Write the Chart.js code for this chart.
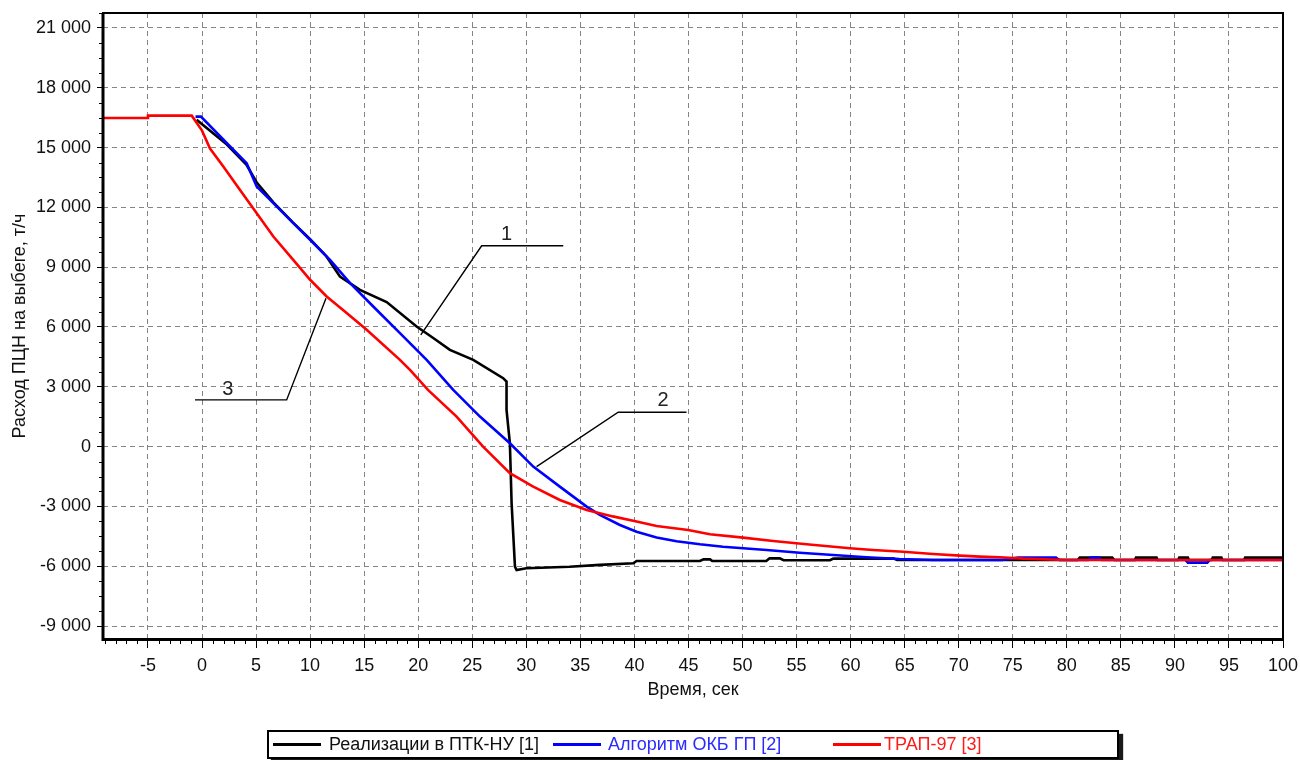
<!DOCTYPE html>
<html>
<head>
<meta charset="utf-8">
<title>Расход ПЦН на выбеге</title>
<script src="https://cdn.jsdelivr.net/npm/chart.js@4/dist/chart.umd.min.js"></script>
<style>
  html, body { margin: 0; padding: 0; background: #fff; }
  #wrap { position: relative; width: 1300px; height: 760px; }
  #chart { position: absolute; left: 0; top: 0; }
  #legend {
    position: absolute; left: 267px; top: 730px; width: 848px; height: 25px;
    border: 2px solid #000; background: #fff; box-shadow: 4px 4px 1px #1a1a1a;
    font: 18px "Liberation Sans", Arial, sans-serif;
  }
  #legend .sw { position: absolute; top: 11px; height: 3px; }
  #legend .tx { position: absolute; top: 0; height: 25px; line-height: 25px; white-space: nowrap; }
</style>
</head>
<body>
<div id="wrap">
  <canvas id="chart" width="1300" height="760"></canvas>
  <div id="legend"></div>
</div>
<script>
// ---- data -------------------------------------------------------------
// time, s / flow, t/h : implementation in ПТК-НУ [1]
const timeImpl = [-0.5, 2.3, 4.1, 5.1, 6.6, 8.4, 10, 11.5, 12.76, 14.61, 17.08, 19.85, 21.39, 22.93, 25.09, 27.86, 28.17,
  28.17, 28.48, 28.64, 28.95, 29.1, 30, 34, 36.8, 39.9, 40.2, 46.06, 46.4, 47.0, 47.2, 52.2, 52.5, 53.45, 53.8, 58.1, 58.4, 64,
  64.3, 81, 81.2, 84.2, 84.4, 86.3, 86.4, 88.3, 88.4, 90.3, 90.4, 91.2, 91.3, 93.4, 93.5, 94.3, 94.4, 96.4, 96.5, 100];
const flowImpl = [16400, 15150, 14150, 13220, 12250, 11250, 10400, 9550, 8532, 7865, 7250, 6023, 5450, 4850, 4350, 3433, 3262,
  1842, 170, -2840, -6023, -6190, -6105, -6023, -5930, -5855, -5740, -5740, -5655, -5655, -5740, -5740, -5604, -5604, -5700, -5700, -5620, -5620,
  -5690, -5690, -5570, -5570, -5690, -5690, -5570, -5570, -5690, -5690, -5570, -5570, -5690, -5690, -5570, -5570, -5690, -5690, -5570, -5570];

// algorithm ОКБ ГП [2]
const timeOkb = [-0.6, -0.1, 2.28, 4.13, 5.06, 6.6, 8.44, 10, 11.84, 13.7, 15.84, 18.31, 20.78, 23.24, 25.71, 28.48, 30.64,
  33.1, 35.58, 36.8, 38.66, 40.2, 42.05, 43.9, 46.06, 48.2, 50.06, 52.22, 55.3, 58.39, 61.47, 64.5, 67.63, 74, 75.5, 79, 79.3,
  82, 82.2, 83, 83.2, 91, 91.2, 93, 93.2, 100];
const flowOkb = [16550, 16550, 15230, 14220, 13050, 12215, 11210, 10375, 9370, 8200, 7027, 5690, 4350, 2845, 1506, 170, -1004,
  -2008, -3011, -3428, -3930, -4266, -4560, -4750, -4900, -5020, -5100, -5185, -5320, -5435, -5550, -5636, -5687, -5687, -5570, -5570, -5690,
  -5690, -5570, -5570, -5690, -5690, -5820, -5820, -5690, -5690];

// ТРАП-97 [3]
const timeTrap = [-9.2, -5.05, -5, -0.95, 0, 0.74, 1.97, 3.5, 5.06, 6.6, 8.44, 10, 11.53, 13.38, 15.23, 18.31,
  19.24, 20.9, 23.55, 26.0, 28.48, 30.64, 33.1, 35.58, 38.0, 40.2, 42.05, 44.97, 46.98, 50.06, 52.84, 55.92, 59.93, 62.08,
  64.86, 67.63, 70.1, 71.95, 73.8, 76, 80, 100];
const flowTrap = [16480, 16480, 16600, 16600, 15850, 14950, 14050, 12880, 11710, 10540, 9370, 8370, 7530, 6700, 5857, 4350,
  3850, 2845, 1506, 0, -1335, -2008, -2675, -3177, -3500, -3760, -3980, -4180, -4400, -4567, -4733, -4900, -5100, -5185,
  -5270, -5385, -5470, -5520, -5550, -5620, -5690, -5690];

// leader lines for the curve numbers: [time, flow] vertices and the number's anchor
const leaderNames = ['1', '2', '3'];
const leaderTimes = [[20.24, 25.87, 33.42], [30.95, 38.5, 44.82], [11.47, 7.83, -0.65]];
const leaderFlows = [[5606, 10073, 10073], [-1004, 1725, 1725], [7448, 2344, 2344]];
const leaderLabelTime = [28.18, 42.66, 2.38];
const leaderLabelFlow = [10625, 2309, 2845];

// axes
const xTickValues = [-5, 0, 5, 10, 15, 20, 25, 30, 35, 40, 45, 50, 55, 60, 65, 70, 75, 80, 85, 90, 95, 100];
const yTickValues = [-9000, -6000, -3000, 0, 3000, 6000, 9000, 12000, 15000, 18000, 21000];
const xRange = [-9.16, 100];
const yRange = [-9650, 21750];

const seriesNames = ['Реализации в ПТК-НУ [1]', 'Алгоритм ОКБ ГП [2]', 'ТРАП-97 [3]'];
const seriesColors = ['#000000', '#0000ff', '#ff0000'];
const legendTextColors = ['#111111', '#2b2bff', '#ff1a1a'];

// ---- helpers ----------------------------------------------------------
const FONT = '"Liberation Sans", Arial, sans-serif';
const zip = (xs, ys) => xs.map((x, i) => ({ x, y: ys[i] }));
const fmt = v => (v < 0 ? '-' : '') + String(Math.abs(v)).replace(/\B(?=(\d{3})+(?!\d))/g, ' ');

const seriesDatasets = [
  [timeImpl, flowImpl], [timeOkb, flowOkb], [timeTrap, flowTrap]
].map(([t, q], i) => ({
  label: seriesNames[i],
  data: zip(t, q),
  borderColor: seriesColors[i],
  backgroundColor: seriesColors[i],
  borderWidth: 2.6,
  pointRadius: 0,
  tension: 0,
  order: 3 - i
}));

const leaderDatasets = leaderTimes.map((t, i) => ({
  label: 'leader ' + leaderNames[i],
  data: zip(t, leaderFlows[i]),
  borderColor: '#000',
  borderWidth: 1.4,
  pointRadius: 0,
  tension: 0,
  order: 0,
  isLeader: true
}));

// short outside tick marks (every 1 s and every 750 t/h) plus the plot frame
const framePlugin = {
  id: 'frame',
  afterDraw(chart) {
    const { ctx, chartArea: a, scales: { x, y } } = chart;
    ctx.save();
    ctx.strokeStyle = '#000';
    ctx.lineWidth = 1;
    ctx.beginPath();
    for (let v = Math.ceil(x.min); v <= x.max; v++) {
      if (v % 5 === 0) continue;
      const px = Math.round(x.getPixelForValue(v)) + 0.5;
      ctx.moveTo(px, a.bottom); ctx.lineTo(px, a.bottom + 5);
    }
    for (let v = Math.ceil(y.min / 750) * 750; v <= y.max; v += 750) {
      if (v % 3000 === 0) continue;
      const py = Math.round(y.getPixelForValue(v)) + 0.5;
      ctx.moveTo(a.left - 4, py); ctx.lineTo(a.left, py);
    }
    ctx.stroke();
    // frame
    ctx.lineWidth = 2;
    ctx.strokeRect(a.left, a.top, a.right - a.left, a.bottom - a.top);
    ctx.lineWidth = 3;
    ctx.beginPath();
    ctx.moveTo(a.left, a.top); ctx.lineTo(a.left, a.bottom + 0.5); ctx.lineTo(a.right, a.bottom + 0.5);
    ctx.stroke();
    // curve numbers
    ctx.fillStyle = '#222';
    ctx.font = '20px ' + FONT;
    ctx.textAlign = 'center';
    ctx.textBaseline = 'middle';
    leaderNames.forEach((n, i) => {
      ctx.fillText(n, x.getPixelForValue(leaderLabelTime[i]), y.getPixelForValue(leaderLabelFlow[i]));
    });
    ctx.restore();
  }
};

// legend in a framed box below the plot
const htmlLegend = {
  id: 'htmlLegend',
  afterUpdate(chart) {
    const box = document.getElementById('legend');
    box.innerHTML = '';
    const swatchLeft = [4, 284, 564], textLeft = [60, 339, 615], swatchWidth = 48;
    chart.data.datasets.filter(d => !d.isLeader).forEach((d, i) => {
      const sw = document.createElement('div');
      sw.className = 'sw';
      sw.style.left = swatchLeft[i] + 'px';
      sw.style.width = swatchWidth + 'px';
      sw.style.background = d.borderColor;
      const tx = document.createElement('div');
      tx.className = 'tx';
      tx.style.left = textLeft[i] + 'px';
      tx.style.color = legendTextColors[i];
      tx.textContent = d.label;
      box.appendChild(sw);
      box.appendChild(tx);
    });
  }
};

const gridCommon = {
  color: '#858585',
  lineWidth: 1,
  tickColor: '#000',
  tickWidth: 1,
  tickBorderDash: [],
  drawTicks: true
};

new Chart(document.getElementById('chart'), {
  type: 'line',
  data: { datasets: [...seriesDatasets, ...leaderDatasets] },
  options: {
    responsive: false,
    animation: false,
    layout: { padding: { left: 0, right: 17, top: 13, bottom: 51 } },
    plugins: { legend: { display: false }, tooltip: { enabled: false } },
    scales: {
      x: {
        type: 'linear',
        min: xRange[0], max: xRange[1],
        afterBuildTicks: s => { s.ticks = xTickValues.map(v => ({ value: v })); },
        afterFit: s => { s.height = 70; s.paddingLeft = 0; s.paddingRight = 0; },
        grid: { ...gridCommon, tickLength: 9 },
        border: { display: false, dash: [5, 4] },
        ticks: { color: '#111', font: { family: FONT, size: 18 }, padding: 7, maxRotation: 0, autoSkip: false,
                 callback: v => fmt(v) },
        title: { display: true, text: 'Время, сек', color: '#111', font: { family: FONT, size: 18 }, padding: { top: 8, bottom: 8 } }
      },
      y: {
        type: 'linear',
        min: yRange[0], max: yRange[1],
        afterBuildTicks: s => { s.ticks = yTickValues.map(v => ({ value: v })); },
        afterFit: s => { s.width = 103; s.paddingTop = 0; s.paddingBottom = 0; },
        grid: { ...gridCommon, tickLength: 6 },
        border: { display: false, dash: [5, 4] },
        ticks: { color: '#111', font: { family: FONT, size: 18 }, padding: 6, autoSkip: false,
                 callback: v => fmt(v) },
        title: { display: true, text: 'Расход ПЦН на выбеге, т/ч', color: '#111', font: { family: FONT, size: 18 }, padding: { top: 9, bottom: 9 } }
      }
    }
  },
  plugins: [framePlugin, htmlLegend]
});
</script>
</body>
</html>
